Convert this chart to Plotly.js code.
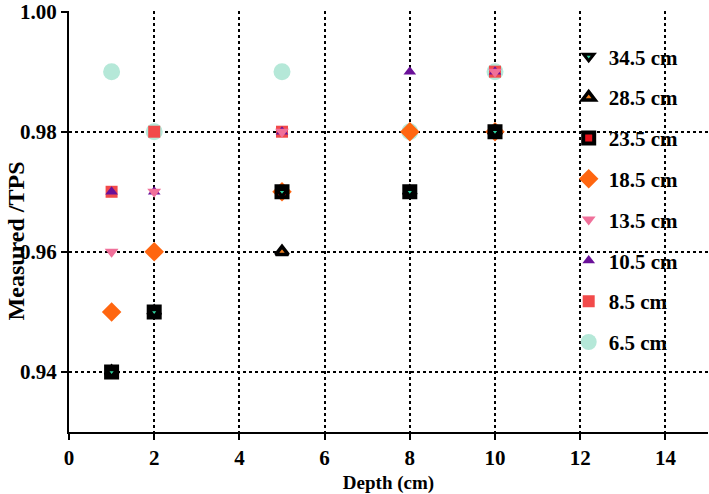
<!DOCTYPE html>
<html><head><meta charset="utf-8">
<script src="https://cdn.plot.ly/plotly-3.0.1.min.js"></script>
<style>body{margin:0;}#c{width:709px;height:494px;}</style>
</head><body><div id="c"></div>
<script>
const depth = [1, 2, 5, 8, 10];
const s34_5 = [0.94, 0.95, 0.97, 0.97, 0.98];
const s28_5 = [0.94, 0.95, 0.96, 0.97, 0.98];
const s23_5 = [0.94, 0.95, 0.97, 0.97, 0.98];
const s18_5 = [0.95, 0.96, 0.97, 0.98, 0.98];
const s13_5 = [0.96, 0.97, 0.98, 0.97, 0.99];
const s10_5 = [0.97, 0.97, 0.98, 0.99, 0.99];
const s8_5  = [0.97, 0.98, 0.98, 0.97, 0.99];
const s6_5  = [0.99, 0.98, 0.99, 0.98, 0.99];
const names = ['34.5 cm','28.5 cm','23.5 cm','18.5 cm','13.5 cm','10.5 cm','8.5 cm','6.5 cm'];
const series = [s34_5, s28_5, s23_5, s18_5, s13_5, s10_5, s8_5, s6_5];
const styles = [
  {symbol:'triangle-down', size:9, color:'#2fd3a0', line:{color:'#000', width:3}},
  {symbol:'triangle-up', size:11, color:'#f08020', line:{color:'#000', width:3.5}},
  {symbol:'square', size:11, color:'#e8101a', line:{color:'#000', width:4}},
  {symbol:'diamond', size:15, color:'#ff6610', line:{width:0}},
  {symbol:'triangle-down', size:12, color:'#f0709a', line:{width:0}},
  {symbol:'triangle-up', size:11, color:'#6a1099', line:{width:0}},
  {symbol:'square', size:12, color:'#f24a4a', line:{width:0}},
  {symbol:'circle', size:17, color:'#b5e8d8', line:{width:0}}
];
const traces = [];
for (let i = series.length - 1; i >= 0; i--) {
  traces.push({x: depth, y: series[i], name: names[i], type:'scatter', mode:'markers',
    marker: styles[i], legendgroup: 'g'+i, legendrank: i+1, cliponaxis:false});
}
traces.push({x:[0], y:[0.93], yaxis:'y2', mode:'markers', marker:{opacity:0}, showlegend:false, hoverinfo:'skip'});
const ff = 'Liberation Serif, Times New Roman, serif';
const layout = {
  width:709, height:494,
  margin:{l:69, r:1, t:11, b:62},
  paper_bgcolor:'#fff', plot_bgcolor:'#fff',
  font: {family:ff, size:17, color:'#000', weight:'bold'},
  showlegend:true,
  legend:{x:0.782, y:0.94, xanchor:'left', yanchor:'top', bgcolor:'rgba(0,0,0,0)',
    font:{family:ff, size:21, color:'#000', weight:'bold'},
    tracegroupgap:10.5, itemsizing:'trace'},
  xaxis:{range:[0,15], dtick:2, tick0:0, showgrid:true, gridcolor:'#000', griddash:'dot', gridwidth:2,
    zeroline:false, showline:true, linecolor:'#000', linewidth:2, ticks:'outside', ticklen:6, tickwidth:2, tickcolor:'#000',
    tickfont:{family:ff, size:21, color:'#000', weight:'bold'},
    title:{text:'Depth (cm)', font:{family:ff, size:19, color:'#000', weight:'bold'}, standoff:9}},
  yaxis:{range:[0.93,1.0001], tickvals:[0.94,0.96,0.98,1.00], ticktext:['0.94','0.96','0.98','1.00'], showgrid:false,
    ticklabeloverflow:'allow',
    zeroline:false, showline:true, linecolor:'#000', linewidth:2, ticks:'outside', ticklen:6, tickwidth:2, tickcolor:'#000',
    tickfont:{family:ff, size:21, color:'#000', weight:'bold'}},
  yaxis2:{range:[0.93,1.0001], overlaying:'y', tickvals:[0.94,0.96,0.98], showticklabels:false, showgrid:true,
    gridcolor:'#000', griddash:'dot', gridwidth:2, zeroline:false, showline:false, ticks:''},
  annotations:[{text:'Measured /TPS', textangle:-90, xref:'paper', yref:'paper', x:-0.083, y:0.455,
    xanchor:'center', yanchor:'middle', showarrow:false,
    font:{family:ff, size:24, color:'#000', weight:'bold'}}]
};
Plotly.newPlot('c', traces, layout, {staticPlot:true});
</script>
</body></html>
